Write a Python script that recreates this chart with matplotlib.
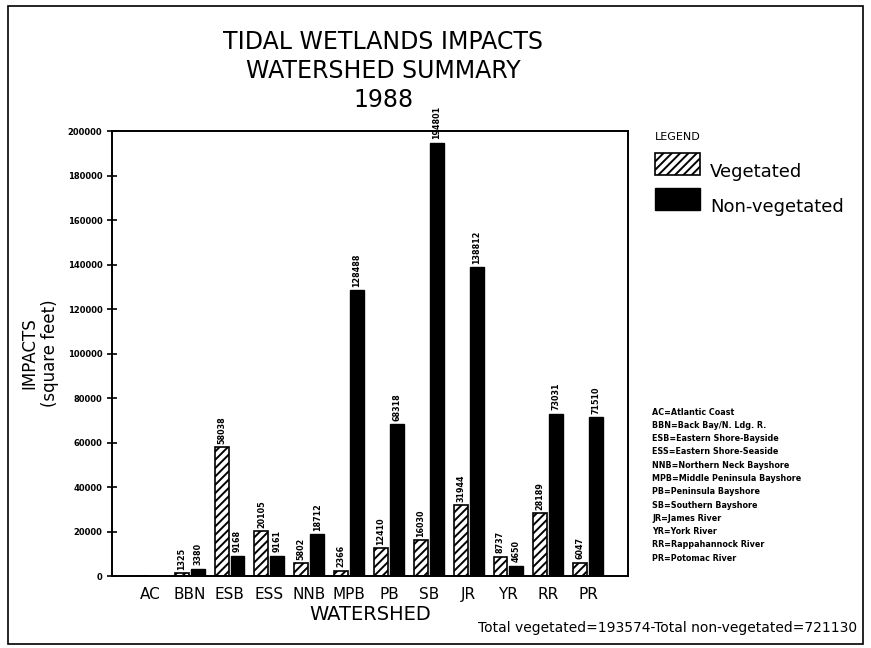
import matplotlib.pyplot as plt
import numpy as np
from matplotlib.patches import Rectangle

# watershed codes along the x axis
watersheds = ["AC", "BBN", "ESB", "ESS", "NNB", "MPB", "PB", "SB", "JR", "YR", "RR", "PR"]
vegetated = [0, 1325, 58038, 20105, 5802, 2366, 12410, 16030, 31944, 8737, 28189, 6047]
non_vegetated = [0, 3380, 9168, 9161, 18712, 128488, 68318, 194801, 138812, 4650, 73031, 71510]
y_ticks = [0, 20000, 40000, 60000, 80000, 100000, 120000, 140000, 160000, 180000, 200000]

key_lines = [
    "AC=Atlantic Coast",
    "BBN=Back Bay/N. Ldg. R.",
    "ESB=Eastern Shore-Bayside",
    "ESS=Eastern Shore-Seaside",
    "NNB=Northern Neck Bayshore",
    "MPB=Middle Peninsula Bayshore",
    "PB=Peninsula Bayshore",
    "SB=Southern Bayshore",
    "JR=James River",
    "YR=York River",
    "RR=Rappahannock River",
    "PR=Potomac River",
]
total_veg = 193574
total_nonveg = 721130

plt.rcParams["hatch.linewidth"] = 1.4

fig = plt.figure(figsize=(8.71, 6.48), dpi=100)
ax = fig.add_axes([0.1286, 0.111, 0.5924, 0.6867])

x = np.arange(len(watersheds))
w = 0.35
gap = 0.05
veg_bars = ax.bar(x - w / 2 - gap / 2, vegetated, w, color="white", edgecolor="black",
                  hatch="////", linewidth=1.2)
non_bars = ax.bar(x + w / 2 + gap / 2, non_vegetated, w, color="black", edgecolor="black")

# value labels above each bar (skip the empty AC pair)
for bars, vals in ((veg_bars, vegetated), (non_bars, non_vegetated)):
    for b, v in zip(bars, vals):
        if v == 0:
            continue
        ax.text(b.get_x() + b.get_width() / 2, v + 1500, str(v), rotation=90,
                ha="center", va="bottom", fontsize=5.8, fontweight="bold")

ax.set_xlim(-0.95, 12.0)
ax.set_ylim(0, 200000)
ax.set_yticks(y_ticks)
ax.set_yticklabels([str(t) for t in y_ticks], fontsize=6, fontweight="bold")
ax.tick_params(axis="y", direction="inout", length=7, width=1.2)
ax.set_xticks(x)
ax.set_xticklabels(watersheds, fontsize=11)
ax.tick_params(axis="x", length=0, pad=8)
for s in ax.spines.values():
    s.set_linewidth(1.4)

ax.set_xlabel("WATERSHED", fontsize=14, labelpad=2)
ax.set_ylabel("IMPACTS\n(square feet)", fontsize=12, labelpad=6)

fig.text(0.44, 0.935, "TIDAL WETLANDS IMPACTS", ha="center", va="center", fontsize=17)
fig.text(0.44, 0.890, "WATERSHED SUMMARY", ha="center", va="center", fontsize=17)
fig.text(0.44, 0.845, "1988", ha="center", va="center", fontsize=17)

# hand drawn legend on the right
fig.text(0.752, 0.789, "LEGEND", fontsize=8, va="center")
fig.patches.append(Rectangle((0.752, 0.730), 0.052, 0.034, transform=fig.transFigure,
                             facecolor="white", edgecolor="black", hatch="////", linewidth=1.2))
fig.patches.append(Rectangle((0.752, 0.676), 0.052, 0.034, transform=fig.transFigure,
                             facecolor="black", edgecolor="black"))
fig.text(0.815, 0.735, "Vegetated", fontsize=13, va="center")
fig.text(0.815, 0.680, "Non-vegetated", fontsize=13, va="center")

for i, line in enumerate(key_lines):
    fig.text(0.749, 0.364 - i * 0.0205, line, fontsize=5.8, fontweight="bold", va="center")

fig.text(0.984, 0.02, f"Total vegetated={total_veg}-Total non-vegetated={total_nonveg}",
         ha="right", va="bottom", fontsize=10)

# frame around the whole sheet
fig.patches.append(Rectangle((0.009, 0.006), 0.982, 0.985, transform=fig.transFigure,
                             fill=False, edgecolor="black", linewidth=1.2))

fig.savefig("out.png", dpi=100)
